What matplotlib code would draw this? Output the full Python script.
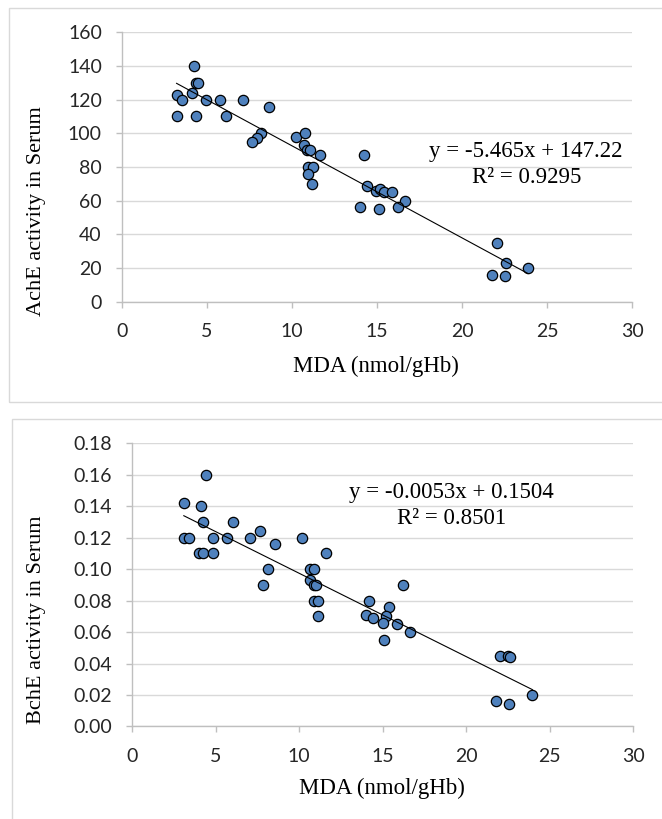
import matplotlib
matplotlib.use('Agg')
import numpy as np
import matplotlib.pyplot as plt
from matplotlib.patches import Rectangle

# Data: MDA vs AchE (top chart)
ache_mda = [4.21, 4.33, 4.49, 3.21, 4.14, 3.51, 4.94, 5.78, 7.12, 3.21,
            4.33, 6.12, 8.62, 8.19, 7.92, 7.66, 10.25, 10.78, 10.72, 10.88,
            11.08, 11.65, 14.24, 10.96, 11.21, 10.96, 11.15, 14.41, 14.02, 14.94,
            15.19, 15.43, 15.88, 16.65, 15.09, 16.21, 22.06, 22.59, 23.88, 21.74,
            22.5]
ache = [140, 130, 130, 123, 124, 120, 120, 120, 120, 110,
        110, 110, 115.5, 100, 97, 95, 98, 100, 93, 90,
        90, 87, 87, 80, 80, 76, 70, 69, 56, 66,
        67, 65, 65, 60, 55, 56, 35, 23, 20, 16,
        15]
ache_slope, ache_icpt = -5.465, 147.22
ache_eq = 'y = -5.465x + 147.22'
ache_r2 = 'R² = 0.9295'

# Data: MDA vs BchE (bottom chart)
bche_mda = [4.40, 3.10, 4.14, 4.26, 6.04, 3.10, 3.40, 4.86, 5.70, 7.06,
            7.64, 8.54, 10.18, 4.00, 4.26, 4.86, 11.62, 8.14, 7.84, 10.68,
            10.92, 10.66, 10.90, 11.04, 10.92, 11.16, 11.12, 14.18, 13.98, 14.40,
            16.20, 15.40, 15.20, 15.04, 15.84, 16.64, 15.08, 22.04, 22.50, 22.60,
            23.96, 21.76, 22.56]
bche = [0.160, 0.142, 0.140, 0.130, 0.130, 0.120, 0.120, 0.120, 0.120, 0.120,
        0.124, 0.116, 0.120, 0.110, 0.110, 0.110, 0.110, 0.100, 0.090, 0.100,
        0.100, 0.093, 0.090, 0.090, 0.080, 0.080, 0.070, 0.080, 0.071, 0.069,
        0.090, 0.076, 0.070, 0.066, 0.065, 0.060, 0.055, 0.045, 0.045, 0.044,
        0.020, 0.016, 0.014]
bche_slope, bche_icpt = -0.0053, 0.1504
bche_eq = 'y = -0.0053x + 0.1504'
bche_r2 = 'R² = 0.8501'

xlabel = 'MDA (nmol/gHb)'

tick_font = 'Lato'
serif = ['Liberation Serif', 'DejaVu Serif']
grid_col = '#d9d9d9'
axis_col = '#bfbfbf'
dot_col = '#4f81bd'

fig = plt.figure(figsize=(6.62, 8.19), dpi=100)

# Chart frames
fig.patches.append(Rectangle((0.0136, 0.5095), 1.2, 0.4807, transform=fig.transFigure,
                             fill=False, edgecolor=grid_col, linewidth=1.0))
fig.patches.append(Rectangle((0.0181, -0.2), 1.2, 0.688, transform=fig.transFigure,
                             fill=False, edgecolor=grid_col, linewidth=1.0))


def style_axes(ax, ymax, ystep, yfmt):
    ax.set_xlim(0, 30)
    ax.set_ylim(0, ymax)
    ax.set_xticks(np.arange(0, 31, 5))
    yt = np.arange(0, ymax + ystep / 2, ystep)
    ax.set_yticks(yt)
    ax.set_yticklabels([yfmt.format(v) for v in yt])
    ax.grid(axis='y', color=grid_col, linewidth=1.0)
    ax.set_axisbelow(True)
    for s in ['top', 'right']:
        ax.spines[s].set_visible(False)
    for s in ['left', 'bottom']:
        ax.spines[s].set_color(axis_col)
        ax.spines[s].set_linewidth(1.0)
    ax.tick_params(axis='both', colors=axis_col, length=4.5, width=1.0,
                   labelcolor='#262626', labelsize=14)
    ax.tick_params(axis='y', pad=10)
    ax.tick_params(axis='x', pad=11)
    for lab in ax.get_xticklabels() + ax.get_yticklabels():
        lab.set_fontfamily(tick_font)


def draw(ax, xs, ys, slope, icpt):
    ax.scatter(xs, ys, s=55, facecolor=dot_col, edgecolor='black',
               linewidth=0.9, zorder=3)
    xl = np.array([min(xs), max(xs)])
    ax.plot(xl, slope * xl + icpt, color='black', linewidth=0.8, zorder=4)


# Top chart
ax1 = fig.add_axes([0.1843, 0.6316, 0.7704, 0.3290])
draw(ax1, ache_mda, ache, ache_slope, ache_icpt)
style_axes(ax1, 160, 20, '{:.0f}')
ax1.text(23.76, 89.1, ache_eq, ha='center', va='center', fontsize=16.5, family=serif)
ax1.text(23.82, 73.6, ache_r2, ha='center', va='center', fontsize=16.5, family=serif)

# Bottom chart
ax2 = fig.add_axes([0.1994, 0.1130, 0.7573, 0.3457])
draw(ax2, bche_mda, bche, bche_slope, bche_icpt)
style_axes(ax2, 0.18, 0.02, '{:.2f}')
ax2.text(19.1, 0.1487, bche_eq, ha='center', va='center', fontsize=16.5, family=serif)
ax2.text(19.1, 0.1324, bche_r2, ha='center', va='center', fontsize=16.5, family=serif)

# Axis titles
fig.text(0.0554, 0.7418, 'AchE activity in Serum', rotation=90, ha='center', va='center',
         fontsize=16, family=serif)
fig.text(0.568, 0.5523, xlabel, ha='center', va='center', fontsize=16.5, family=serif)
fig.text(0.0554, 0.243, 'BchE activity in Serum', rotation=90, ha='center', va='center',
         fontsize=16, family=serif)
fig.text(0.577, 0.0379, xlabel, ha='center', va='center', fontsize=16.5, family=serif)

fig.savefig('out.png', dpi=100)
